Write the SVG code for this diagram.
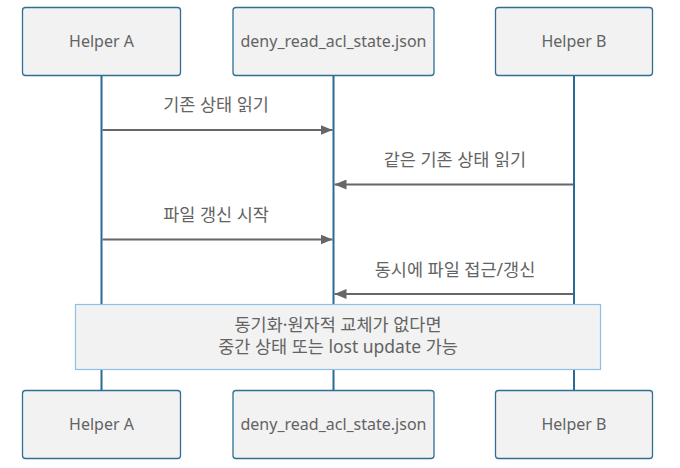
<svg xmlns="http://www.w3.org/2000/svg" width="680" height="468" viewBox="0 0 680 468">
<defs>
<style>
.actor rect{fill:#f2f2f2;stroke:#2f6f94;stroke-width:1.3}
text{font-family:"Noto Sans","Noto Sans CJK KR","Open Sans",sans-serif;font-size:16px;fill:#636363;text-anchor:middle}
text.ko{font-size:17.5px}
.life{stroke:#2a6a94;stroke-width:2}
.msg{stroke:#666;stroke-width:2;fill:none;marker-end:url(#ah)}
.note rect{fill:#f2f2f2;stroke:#8cc0e4;stroke-width:1.2}
</style>
<marker id="ah" viewBox="0 0 12 10" refX="12" refY="5" markerWidth="12" markerHeight="10" markerUnits="userSpaceOnUse" orient="auto">
<path d="M0,0 L12,5 L0,10 Z" fill="#666"/>
</marker>
</defs>
<g id="lifelines">
<line class="life" x1="101.5" y1="75.5" x2="101.5" y2="390"/>
<line class="life" x1="333.5" y1="75.5" x2="333.5" y2="390"/>
<line class="life" x1="574" y1="75.5" x2="574" y2="390"/>
</g>
<g id="connectors">
<line class="msg" x1="102.5" y1="130" x2="332.5" y2="130"/>
<text class="ko" x="216" y="111">기존 상태 읽기</text>
<line class="msg" x1="573" y1="184.5" x2="334.5" y2="184.5"/>
<text class="ko" x="455" y="166">같은 기존 상태 읽기</text>
<line class="msg" x1="102.5" y1="239.5" x2="332.5" y2="239.5"/>
<text class="ko" x="216" y="221">파일 갱신 시작</text>
<line class="msg" x1="573" y1="294" x2="334.5" y2="294"/>
<text class="ko" x="455" y="276">동시에 파일 접근/갱신</text>
</g>
<g id="helperA-top" class="actor"><rect x="22.5" y="7.5" width="158" height="68" rx="3"/><text x="101.5" y="47">Helper A</text></g>
<g id="json-top" class="actor"><rect x="233" y="7.5" width="201" height="68" rx="3"/><text x="333.5" y="47">deny_read_acl_state.json</text></g>
<g id="helperB-top" class="actor"><rect x="495.5" y="7.5" width="157" height="68" rx="3"/><text x="574" y="47">Helper B</text></g>
<g id="note" class="note"><rect x="75.5" y="304.5" width="525" height="65"/>
<text class="ko" x="338" y="331">동기화·원자적 교체가 없다면</text>
<text class="ko" x="338" y="353">중간 상태 또는 lost update 가능</text></g>
<g id="helperA-bottom" class="actor"><rect x="22.5" y="390.5" width="158" height="68" rx="3"/><text x="101.5" y="430">Helper A</text></g>
<g id="json-bottom" class="actor"><rect x="233" y="390.5" width="201" height="68" rx="3"/><text x="333.5" y="430">deny_read_acl_state.json</text></g>
<g id="helperB-bottom" class="actor"><rect x="495.5" y="390.5" width="157" height="68" rx="3"/><text x="574" y="430">Helper B</text></g>
</svg>
